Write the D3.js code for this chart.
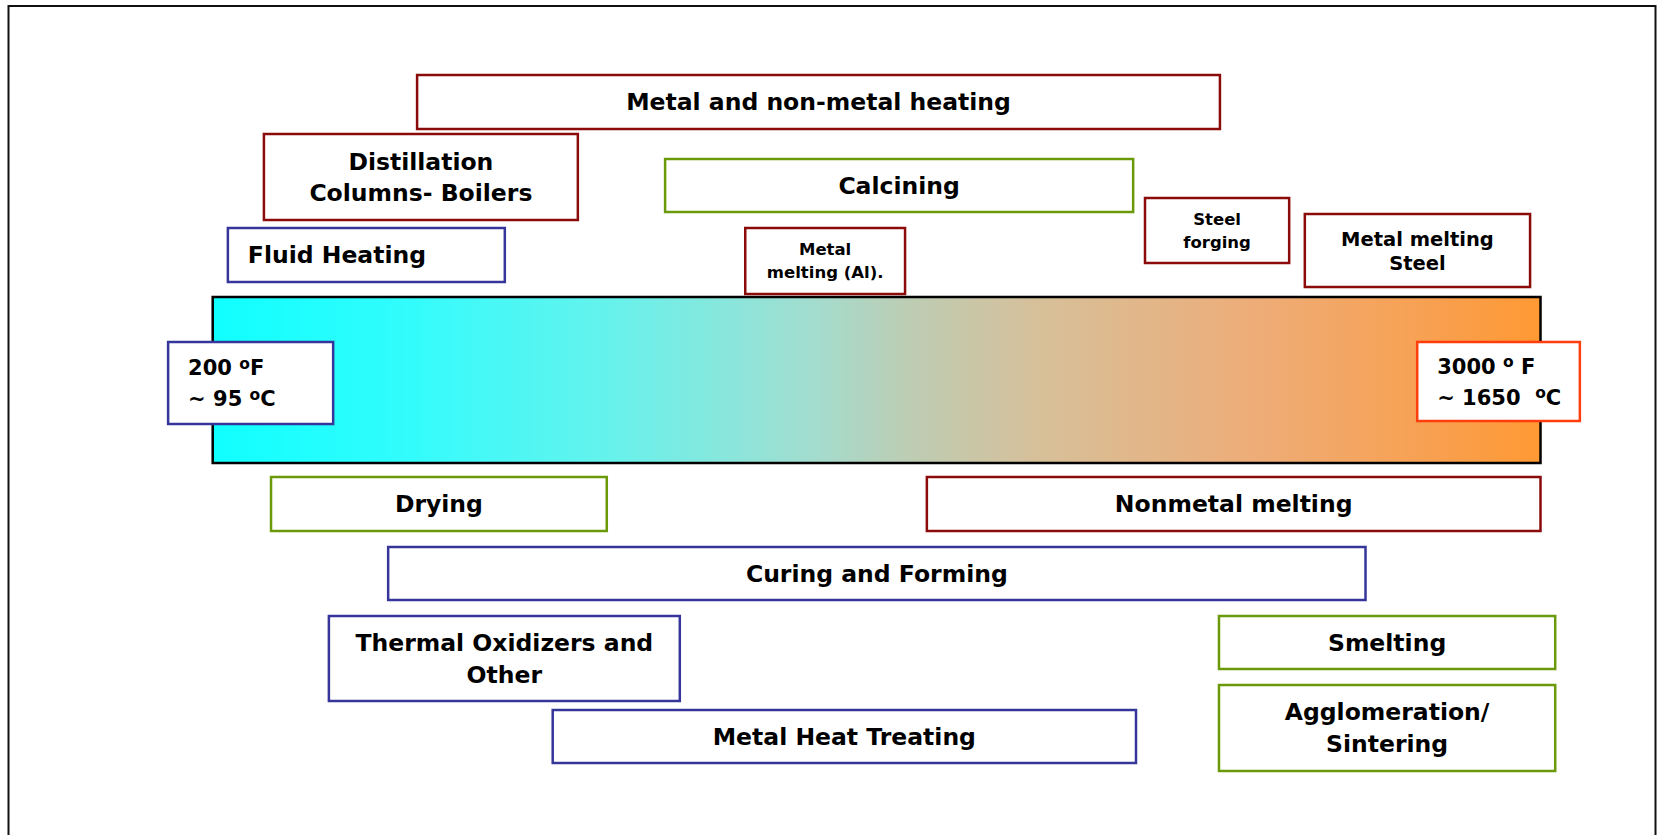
<!DOCTYPE html>
<html><head><meta charset="utf-8">
<script src="https://cdn.jsdelivr.net/npm/d3@7"></script>
<style>body{margin:0;background:#fff;} svg{display:block;}</style>
</head><body><svg id="c" width="1659" height="835"></svg>
<script>
// ---------------- DATA ----------------
// Process names (\n = line break) and their approximate temperature ranges in °F
const processes = [
  "Metal and non-metal heating",
  "Distillation\nColumns- Boilers",
  "Fluid Heating",
  "Calcining",
  "Metal\nmelting (Al).",
  "Steel\nforging",
  "Metal melting\nSteel",
  "Drying",
  "Nonmetal melting",
  "Curing and Forming",
  "Thermal Oxidizers and\nOther",
  "Metal Heat Treating",
  "Smelting",
  "Agglomeration/\nSintering"
];
const lowF  = [631, 308, 232, 1154, 1323, 2166, 2503, 323, 1706, 570, 445, 917, 2322, 2322];
const highF = [2324, 970, 816, 2141, 1660, 2470, 2978, 1031, 3000, 2631, 1185, 2147, 3031, 3031];
const groups = ["metal", "metal", "fluid", "mineral", "metal", "metal", "metal",
                "mineral", "metal", "fluid", "fluid", "fluid", "mineral", "mineral"];

// Scale end labels
const scaleEndsF = [200, 3000];
const endLabelF = ["200 ", "3000 "];
const endLabelFUnit = ["F", " F"];
const endLabelC = ["~ 95 ", "~ 1650  "];
const endLabelLowF  = [106, 2740];
const endLabelHighF = [454, 3083];
const endGroups = ["fluid", "hot"];

// ---------------- LAYOUT / STYLE ----------------
const W = 1659, H = 835;
const barLeft = 212.7, barRight = 1540.5, barTop = 297, barBottom = 463;
// vertical placement of each process box: [top, bottom]
const boxY = [[75,129],[134,220],[228,282],[159,212],[228,294],[198,263],[214,287],
              [477,531],[477,531],[547,600],[616,701],[710,763],[616,669],[685,771]];
const fontSizes = [23.5,23.5,23.5,23.5,16.5,16.5,19.5,23.5,23.5,23.5,23.5,23.5,23.5,23.5];
const lineGap   = [31,31,31,31,23,23,24,31,31,31,32,31,31,32];
const leftAligned = [false,false,true,false,false,false,false,false,false,false,false,false,false,false];
const endBoxY = [[342,424],[342,421]];

const color = d3.scaleOrdinal()
  .domain(["metal", "fluid", "mineral", "hot"])
  .range(["#8B0A0A", "#35359A", "#6A9A0A", "#FF3D0D"]);

const x = d3.scaleLinear().domain(scaleEndsF).range([barLeft, barRight]);

const svg = d3.select("#c");
svg.append("rect").attr("width", W).attr("height", H).attr("fill", "#fff");

// outer frame
svg.append("rect").attr("x", 8.5).attr("y", 6).attr("width", 1647).attr("height", 900)
  .attr("fill", "none").attr("stroke", "#111").attr("stroke-width", 2);

// gradient
const defs = svg.append("defs");
const grad = defs.append("linearGradient").attr("id", "tg")
  .attr("x1", "0%").attr("x2", "100%").attr("y1", "0%").attr("y2", "0%");
const stops = [[0,"#10FFFF"],[0.15,"#33FCFC"],[0.3,"#66F2EC"],[0.45,"#A2DDCF"],
               [0.52,"#BCCDB5"],[0.62,"#D6C09A"],[0.78,"#EDAD79"],[0.92,"#F8A050"],[1,"#FF9933"]];
grad.selectAll("stop").data(stops).join("stop")
  .attr("offset", d => d[0]).attr("stop-color", d => d[1]);

svg.append("rect")
  .attr("x", x(scaleEndsF[0])).attr("y", barTop)
  .attr("width", x(scaleEndsF[1]) - x(scaleEndsF[0])).attr("height", barBottom - barTop)
  .attr("fill", "url(#tg)").attr("stroke", "#000").attr("stroke-width", 2.5);

const font = "'DejaVu Sans', Verdana, sans-serif";

// process boxes
const items = processes.map((p, i) => ({
  name: p, lo: lowF[i], hi: highF[i], g: groups[i],
  top: boxY[i][0], bottom: boxY[i][1], fs: fontSizes[i], gap: lineGap[i], left: leftAligned[i]
}));

const gBox = svg.selectAll("g.box").data(items).join("g").attr("class", "box");
gBox.append("rect")
  .attr("x", d => x(d.lo)).attr("y", d => d.top)
  .attr("width", d => x(d.hi) - x(d.lo)).attr("height", d => d.bottom - d.top)
  .attr("fill", "#fff").attr("stroke", d => color(d.g)).attr("stroke-width", 2.5);

gBox.each(function(d) {
  const lines = d.name.split("\n");
  const cy = (d.top + d.bottom) / 2;
  const tx = d.left ? x(d.lo) + 20 : (x(d.lo) + x(d.hi)) / 2;
  const t = d3.select(this).append("text")
    .attr("font-family", font).attr("font-weight", "bold").attr("font-size", d.fs)
    .attr("fill", "#000").attr("text-anchor", d.left ? "start" : "middle");
  lines.forEach((ln, k) => {
    const y = cy + (k - (lines.length - 1) / 2) * d.gap;
    t.append("tspan").attr("x", tx).attr("y", y).attr("dy", "0.36em").text(ln);
  });
});

// end-of-scale temperature labels
endLabelF.forEach((lab, i) => {
  const g = svg.append("g");
  const x0 = x(endLabelLowF[i]), x1 = x(endLabelHighF[i]);
  const [t0, t1] = endBoxY[i];
  g.append("rect").attr("x", x0).attr("y", t0).attr("width", x1 - x0).attr("height", t1 - t0)
    .attr("fill", "#fff").attr("stroke", color(endGroups[i])).attr("stroke-width", 2.5);
  const cy = (t0 + t1) / 2;
  const fs = 21;
  const mk = (y, main, unit) => {
    const t = g.append("text").attr("font-family", font).attr("font-weight", "bold")
      .attr("font-size", fs).attr("fill", "#000").attr("x", x0 + 20).attr("y", y).attr("dy", "0.36em")
      .attr("xml:space", "preserve");
    t.append("tspan").text(main);
    t.append("tspan").attr("font-size", 15.5).attr("font-weight", "bold").attr("dy", -6.5).text("o");
    t.append("tspan").attr("dy", 6.5).text(unit);
  };
  mk(cy - 15.5, lab, endLabelFUnit[i]);
  mk(cy + 15.5, endLabelC[i], "C");
});
</script>
</body></html>
